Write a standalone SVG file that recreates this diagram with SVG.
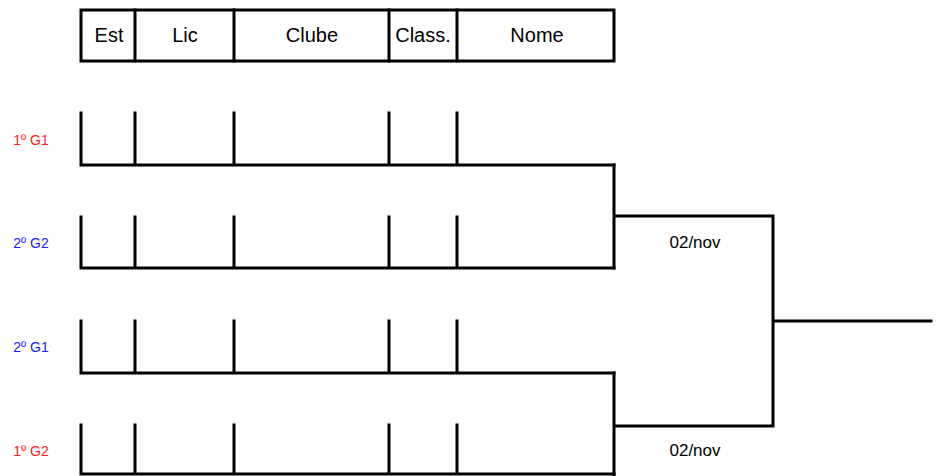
<svg xmlns="http://www.w3.org/2000/svg" width="937" height="476" viewBox="0 0 937 476">
<style>
.ln{stroke:#000;stroke-width:3;fill:none;stroke-linecap:square}
.hd{font-family:"Liberation Sans",Arial,sans-serif;font-size:20px;fill:#000;text-anchor:middle}
.lb{font-family:"Liberation Sans",Arial,sans-serif;font-size:14px;text-anchor:middle}
.red{fill:#ff1a1a}
.blue{fill:#1a1aff}
.dt{font-family:"Liberation Sans",Arial,sans-serif;font-size:17px;fill:#000;text-anchor:middle}
</style>
<rect width="937" height="476" fill="#fff"/>
<g id="header">
<rect class="ln" x="81" y="10" width="533" height="51"/>
<path class="ln" d="M135 10V61M234 10V61M389 10V61M457 10V61"/>
<text class="hd" x="109" y="42">Est</text>
<text class="hd" x="185" y="42">Lic</text>
<text class="hd" x="312" y="42">Clube</text>
<text class="hd" x="423" y="42">Class.</text>
<text class="hd" x="537" y="42">Nome</text>
</g>
<g id="row1">
<path class="ln" d="M81 113V165H614M135 113V165M234 113V165M389 113V165M457 113V165"/>
<text class="lb red" x="31" y="145">1º G1</text>
</g>
<g id="row2">
<path class="ln" d="M81 217V268H614M135 217V268M234 217V268M389 217V268M457 217V268"/>
<text class="lb blue" x="31" y="248">2º G2</text>
</g>
<g id="row3">
<path class="ln" d="M81 321V373H614M135 321V373M234 321V373M389 321V373M457 321V373"/>
<text class="lb blue" x="31" y="352">2º G1</text>
</g>
<g id="row4">
<path class="ln" d="M81 425V474H614M135 425V474M234 425V474M389 425V474M457 425V474"/>
<text class="lb red" x="31" y="456">1º G2</text>
</g>
<g id="connectors">
<path class="ln" d="M614 165V268M614 216H773M614 373V476M614 426H773M773 216V426M773 321H931"/>
</g>
<g id="dates">
<text class="dt" x="695" y="248">02/nov</text>
<text class="dt" x="695" y="456">02/nov</text>
</g>
</svg>
